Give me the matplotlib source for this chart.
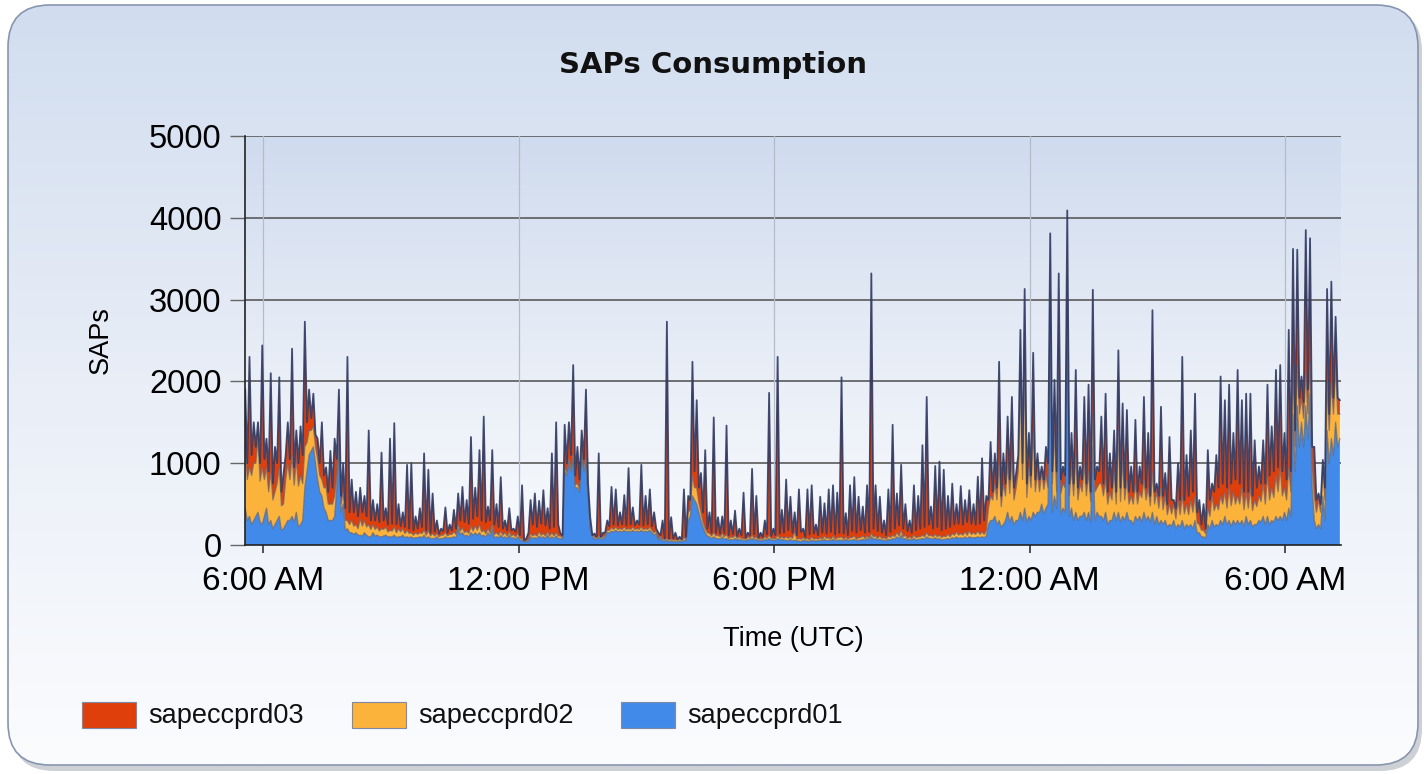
import numpy as np
import matplotlib
matplotlib.use("Agg")
import matplotlib.pyplot as plt
from matplotlib.patches import FancyBboxPatch, Rectangle

# ---------------- data -------------
# Samples every 3 minutes from 05:35: a "peak" reading every 6 minutes, and the
# "trough" reading that lies between two consecutive peak readings.
start_hour = 5.0 + 35.0 / 60.0
step_hour = 0.05

# sapeccprd01 (blue, bottom layer) - peak readings
sapeccprd01 = [
    450, 350, 300, 400, 250, 450, 300, 250, 350, 200, 300, 350, 400, 250, 700, 1100, 1200, 800, 600, 400,
    300, 350, 1250, 500, 200, 150, 150, 120, 150, 100, 150, 120, 100, 120, 100, 120, 100, 120, 100, 100,
    90, 100, 120, 100, 80, 100, 80, 100, 90, 100, 200, 150, 120, 150, 150, 150, 120, 150, 200, 100,
    120, 100, 120, 90, 100, 60, 40, 100, 90, 110, 100, 120, 100, 110, 80, 900, 1000, 1050, 700, 1100,
    1000, 200, 80, 90, 80, 150, 170, 180, 170, 180, 170, 180, 170, 180, 170, 180, 120, 60, 50, 60,
    50, 40, 50, 60, 300, 600, 500, 300, 150, 100, 100, 80, 100, 80, 70, 80, 70, 60, 70, 80,
    70, 60, 70, 80, 60, 80, 70, 60, 70, 60, 50, 60, 50, 60, 50, 60, 70, 60, 70, 60,
    60, 70, 60, 70, 60, 70, 80, 100, 80, 70, 60, 70, 80, 100, 120, 80, 70, 80, 70, 80,
    100, 80, 90, 80, 70, 80, 90, 100, 90, 100, 100, 90, 100, 100, 110, 300, 350, 300, 250, 400,
    350, 300, 400, 450, 350, 400, 400, 500, 450, 2900, 600, 1800, 450, 3000, 450, 400, 350, 400, 400, 1200,
    400, 350, 400, 300, 400, 400, 350, 400, 300, 350, 350, 400, 350, 400, 350, 300, 300, 250, 300, 250,
    300, 250, 250, 300, 150, 100, 250, 300, 250, 300, 350, 300, 300, 300, 300, 350, 300, 250, 300, 350,
    350, 300, 350, 350, 400, 450, 1600, 1700, 1500, 1700, 1850, 300, 250, 600, 1400, 1300, 1500, 1300,
]
# sapeccprd01 - trough readings
sapeccprd01_troughs = [
    300, 250, 350, 280, 350, 250, 200, 300, 180, 250, 300, 280, 220, 300,
    900, 1150, 1000, 650, 450, 300, 300, 700, 400, 180, 150,
    130, 120, 110, 120, 100, 110, 100, 110, 100, 100, 90, 100, 90, 90, 80, 90, 90, 80, 80, 80, 70, 80, 80, 90, 90,
    130, 110, 100, 120, 120, 110, 100, 110, 90, 90, 90, 80, 80, 70, 60, 40, 50, 80, 80, 90, 80, 80, 80, 80, 70,
    850, 900, 700, 650, 900, 600, 100,
    70, 70, 100, 150, 160, 160, 160, 160, 160, 160, 160, 160, 160, 150, 140, 90, 50, 40, 40, 40, 40, 50,
    350, 550, 400, 220, 110, 80, 80,
    70, 70, 60, 60, 60, 60, 50, 60, 60, 50, 50, 60, 60, 60, 60,
    60, 50, 50, 50, 40, 50, 40, 50, 50, 50, 50, 50, 50, 60, 50, 50, 60, 50, 60, 60,
    60, 70, 60, 60, 50, 60, 70, 80, 70, 60, 60, 60, 70, 70, 80, 70, 70, 60, 70, 70, 80, 80, 80, 80, 90, 90, 90, 90,
    250, 300, 250, 220, 300, 280, 250, 300, 300, 280, 300, 350, 400, 380, 500, 400, 450, 380, 400, 350,
    300, 300, 350, 300, 280, 300, 350, 300, 250, 300, 300, 280, 300, 300, 250, 300, 280, 300, 280, 250,
    250, 250, 220, 230, 200, 220, 200, 220, 200, 150, 100, 80, 200, 220, 230, 250, 250, 230, 250, 250,
    230, 250, 220, 250, 280, 250, 250, 280, 300, 300, 300, 350, 900, 1200, 1200, 1300, 700, 200, 200, 300,
    1000, 1100, 1200,
]

# sapeccprd02 (yellow, middle layer) - peak readings
sapeccprd02 = [
    800, 600, 700, 900, 700, 500, 600, 400, 600, 300, 700, 750, 650, 600, 500, 300, 250, 250, 200, 300,
    200, 250, 100, 150, 100, 150, 100, 200, 150, 150, 100, 100, 100, 100, 80, 100, 100, 80, 80, 50,
    60, 50, 60, 80, 60, 40, 40, 50, 40, 60, 50, 60, 50, 80, 80, 100, 60, 50, 50, 50,
    50, 50, 40, 40, 40, 20, 10, 40, 40, 50, 40, 40, 50, 40, 30, 50, 50, 60, 50, 50,
    60, 40, 20, 20, 20, 30, 40, 40, 30, 40, 30, 40, 30, 40, 30, 40, 30, 20, 20, 20,
    20, 20, 20, 30, 100, 250, 200, 100, 50, 40, 50, 40, 40, 50, 30, 40, 30, 20, 30, 40,
    30, 20, 30, 40, 20, 40, 30, 40, 30, 100, 30, 30, 30, 40, 30, 30, 40, 30, 40, 30,
    40, 30, 30, 40, 30, 40, 30, 40, 30, 40, 30, 40, 40, 50, 60, 40, 30, 40, 30, 40,
    50, 40, 40, 40, 40, 50, 50, 60, 50, 60, 70, 60, 70, 60, 70, 300, 400, 700, 500, 600,
    700, 400, 1600, 1700, 600, 1000, 500, 400, 400, 200, 800, 300, 300, 300, 500, 700, 400, 600, 500, 400,
    300, 400, 400, 350, 500, 1000, 700, 400, 300, 400, 300, 400, 350, 500, 300, 400, 300, 250, 200, 300,
    300, 250, 300, 300, 100, 80, 200, 300, 250, 300, 300, 400, 350, 300, 400, 300, 400, 300, 300, 400,
    500, 400, 500, 600, 300, 500, 600, 500, 300, 400, 400, 300, 300, 400, 600, 700, 700, 300,
]
# sapeccprd02 - trough readings
sapeccprd02_troughs = [
    500, 600, 650, 500, 450, 400, 350, 450, 300, 550, 500, 450, 500, 450,
    350, 250, 200, 200, 250, 200, 200, 150, 100, 120, 100,
    100, 80, 120, 100, 90, 80, 70, 80, 60, 70, 60, 60, 50, 50, 40, 40, 50, 40, 30, 30, 30, 40, 30, 40, 40,
    40, 40, 40, 50, 60, 50, 40, 40, 40, 30, 30, 30, 30, 30, 20, 10, 20, 30, 30, 30, 30, 30, 30, 30, 20,
    40, 40, 40, 40, 50, 30, 20,
    20, 20, 20, 30, 30, 30, 30, 30, 30, 30, 30, 30, 30, 30, 30, 20, 20, 20, 20, 20, 20, 20,
    80, 150, 120, 60, 40, 30, 30,
    30, 30, 20, 30, 20, 20, 20, 20, 20, 20, 20, 20, 20, 20, 20,
    20, 30, 30, 20, 30, 20, 20, 20, 20, 20, 30, 20, 20, 30, 20, 20, 30, 20, 30, 20,
    20, 30, 20, 20, 20, 30, 30, 30, 30, 20, 20, 30, 30, 30, 30, 30, 30, 30, 30, 30, 40, 40, 40, 40, 40, 40, 40, 40,
    200, 250, 300, 250, 300, 350, 300, 600, 500, 300, 400, 300, 250, 300, 200, 350, 200, 250, 300, 250,
    300, 250, 300, 300, 250, 350, 400, 300, 250, 250, 200, 250, 250, 200, 250, 200, 300, 250, 200, 250,
    200, 180, 150, 150, 120, 150, 180, 150, 200, 120, 80, 60, 150, 200, 200, 250, 200, 250, 250, 250,
    200, 200, 200, 220, 250, 250, 300, 300, 350, 300, 250, 300, 300, 400, 350, 300, 300, 200, 200, 250,
    400, 500, 400,
]

# top of the stack (sum of the three servers) - peak readings
stack_top = [
    1900, 2300, 1500, 1500, 2440, 1300, 2100, 1200, 2050, 870, 1500, 2400, 1400, 1450, 2730, 1900, 1850, 1300, 1500, 950,
    1150, 1300, 1900, 1000, 2300, 800, 650, 700, 600, 1400, 550, 500, 1130, 450, 1300, 1490, 500, 400, 980, 1000,
    350, 450, 1120, 920, 630, 300, 200, 460, 250, 430, 630, 710, 550, 1320, 700, 1160, 1570, 470, 1160, 500,
    830, 300, 450, 200, 350, 730, 80, 550, 630, 540, 670, 450, 1120, 1500, 140, 1470, 1500, 2200, 1200, 1400,
    1900, 340, 140, 1120, 150, 300, 710, 680, 400, 610, 940, 460, 300, 980, 600, 680, 400, 150, 300, 2730,
    340, 150, 100, 680, 600, 2240, 1770, 880, 1160, 400, 1560, 340, 350, 1460, 300, 420, 200, 640, 150, 930,
    600, 150, 300, 1860, 200, 2300, 430, 800, 590, 400, 680, 200, 680, 730, 250, 590, 510, 680, 730, 640,
    2050, 390, 730, 830, 590, 470, 730, 3320, 730, 590, 300, 680, 1470, 630, 980, 500, 300, 730, 600, 1220,
    1810, 470, 966, 1020, 920, 600, 750, 500, 720, 550, 670, 500, 835, 1060, 600, 1260, 1120, 2240, 1120, 1570,
    1810, 880, 2630, 3130, 1370, 2350, 1120, 960, 1200, 3810, 2020, 3320, 960, 4090, 1370, 2140, 960, 1810, 1960, 3120,
    960, 1570, 1850, 1120, 1400, 2380, 1730, 1650, 960, 1530, 960, 1810, 1370, 2870, 750, 1690, 880, 1320, 550, 1000,
    2300, 1100, 1400, 1850, 550, 500, 1160, 750, 1100, 2060, 1770, 1960, 1370, 2140, 1770, 1850, 1850, 1280, 960, 1280,
    1960, 1450, 2140, 2200, 1370, 2630, 3620, 3610, 2060, 3850, 3750, 1200, 630, 1040, 3130, 3220, 2790, 1770,
]
# top of the stack - trough readings
stack_top_troughs = [
    1000, 1100, 1200, 1000, 1050, 900, 750, 1000, 650, 1100, 1050, 950, 1000, 1100,
    1500, 1550, 1350, 1000, 850, 650, 700, 1050, 600, 450, 400,
    400, 350, 400, 350, 300, 300, 280, 300, 250, 260, 250, 230, 220, 200, 180, 200, 220, 180, 150, 160, 140, 170, 150, 180, 200,
    300, 280, 260, 320, 350, 300, 280, 300, 250, 220, 200, 180, 180, 160, 120, 60, 150, 250, 220, 260, 240, 200, 220, 250, 120,
    1000, 1100, 850, 800, 1050, 750, 120,
    100, 100, 150, 230, 250, 240, 250, 240, 250, 240, 250, 240, 250, 230, 200, 120, 80, 80, 80, 70, 70, 100,
    550, 900, 700, 400, 200, 150, 150,
    140, 150, 120, 130, 110, 120, 90, 120, 130, 90, 100, 130, 110, 120, 140,
    150, 180, 150, 120, 160, 100, 130, 140, 120, 150, 140, 160, 130, 150, 140, 120, 170, 150, 180, 150,
    160, 200, 170, 150, 120, 160, 200, 240, 200, 170, 150, 180, 200, 220, 250, 200, 220, 180, 200, 220, 250, 260, 250, 280, 260, 250, 260, 300,
    550, 650, 700, 600, 750, 800, 700, 1100, 1000, 750, 850, 800, 800, 800, 1000, 900, 900, 800, 850, 750,
    750, 700, 800, 750, 650, 800, 900, 750, 650, 700, 650, 700, 700, 650, 650, 650, 750, 700, 600, 650,
    600, 600, 500, 550, 450, 550, 550, 600, 650, 400, 250, 200, 550, 650, 700, 750, 700, 750, 800, 750,
    650, 650, 600, 700, 750, 750, 850, 900, 950, 900, 800, 900, 1400, 1800, 1750, 1900, 1200, 550, 500, 700,
    1600, 1800, 1800,
]

series_labels = ["sapeccprd03", "sapeccprd02", "sapeccprd01"]
x_tick_hours = [6, 12, 18, 24, 30]
x_tick_labels = ["6:00 AM", "12:00 PM", "6:00 PM", "12:00 AM", "6:00 AM"]
y_ticks = [0, 1000, 2000, 3000, 4000, 5000]


def merge(peaks, troughs):
    """Put peak and trough readings in time order."""
    out = []
    for k, p in enumerate(peaks):
        out.append(p)
        if k < len(troughs) and k < len(peaks) - 1:
            out.append(troughs[k])
    return np.array(out, dtype=float)


b = merge(sapeccprd01, sapeccprd01_troughs)
yv = merge(sapeccprd02, sapeccprd02_troughs)
top = merge(stack_top, stack_top_troughs)
n = min(len(b), len(yv), len(top))
b, yv, top = b[:n], yv[:n], top[:n]
sapeccprd03 = np.maximum(top - b - yv, 0)
t = start_hour + step_hour * np.arange(n)

C_RED = "#DF400B"
C_YEL = "#FBB33B"
C_BLUE = "#418AEA"
C_EDGE = "#2E3B66"

W, H = 1426, 774
fig = plt.figure(figsize=(W / 100, H / 100), dpi=100)
fig.patch.set_facecolor("white")

# ---------------- background panel ----------------
bg = fig.add_axes([0, 0, 1, 1])
bg.set_xlim(0, W)
bg.set_ylim(H, 0)
bg.axis("off")
shadow = FancyBboxPatch((12, 9), 1410, 762, boxstyle="round,pad=0,rounding_size=42",
                        facecolor="#b9bcc2", edgecolor="none", alpha=0.7, zorder=0)
bg.add_patch(shadow)
panel = FancyBboxPatch((8, 5), 1410, 760, boxstyle="round,pad=0,rounding_size=42",
                       facecolor="none", edgecolor="#8796b0", linewidth=1.2, zorder=2)
bg.add_patch(panel)
grad = np.linspace(0, 1, 256)[:, None]
cmap_bg = matplotlib.colors.LinearSegmentedColormap.from_list("bgp", ["#d1ddef", "#e9eef7", "#fbfcfe"])
im = bg.imshow(grad, extent=(8, 1418, 765, 5), cmap=cmap_bg, aspect="auto", zorder=1)
im.set_clip_path(panel)

bg.text(713, 65, "SAPs Consumption", ha="center", va="center", fontsize=21,
        fontweight="bold", family="DejaVu Sans", color="#111111", zorder=3)

legend_colors = [C_RED, C_YEL, C_BLUE]
legend_x = [82, 352, 621]
for lx, col, lab in zip(legend_x, legend_colors, series_labels):
    bg.add_patch(Rectangle((lx, 702), 54, 26, facecolor=col, edgecolor="#7d8aa6", linewidth=0.8, zorder=3))
    bg.text(lx + 66, 716, lab, ha="left", va="center", fontsize=19.5,
            family="Liberation Sans", color="#111111", zorder=3)

# ---------------- main axes ----------------
L, R, T, B = 245, 1341, 136, 545
ax = fig.add_axes([L / W, 1 - B / H, (R - L) / W, (B - T) / H])
ax.patch.set_alpha(0)
cmap_ax = matplotlib.colors.LinearSegmentedColormap.from_list("axg", ["#cfdbee", "#e6ecf6", "#f8fafd"])
ax.imshow(grad, extent=(0, 1, 0, 1), transform=ax.transAxes, cmap=cmap_ax, aspect="auto", zorder=0)

ax.stackplot(t, b, yv, sapeccprd03, colors=[C_BLUE, C_YEL, C_RED], linewidth=0, zorder=2)
ax.plot(t, b, color="#5f6478", lw=0.9, alpha=0.75, zorder=3)
ax.plot(t, b + yv, color="#6c6470", lw=0.9, alpha=0.75, zorder=3)
ax.plot(t, b + yv + sapeccprd03, color=C_EDGE, lw=1.3, alpha=0.9, zorder=4)

ax.set_xlim(start_hour - 0.005, 31.31)
ax.set_ylim(0, 5000)
ax.set_yticks(y_ticks)
ax.set_yticklabels([str(v) for v in y_ticks], family="Liberation Sans", fontsize=23.5)
ax.set_xticks(x_tick_hours)
ax.set_xticklabels(x_tick_labels, family="Liberation Sans", fontsize=24)

for yv_ in y_ticks[1:]:
    ax.axhline(yv_, color="#5a5a5a", lw=1.2, zorder=1)
for xv_ in x_tick_hours:
    ax.axvline(xv_, color="#b4bcc8", lw=0.9, zorder=1)

for s in ["top", "right"]:
    ax.spines[s].set_visible(False)
for s in ["left", "bottom"]:
    ax.spines[s].set_color("#222222")
    ax.spines[s].set_linewidth(1.2)
    ax.spines[s].set_zorder(5)

ax.tick_params(axis="y", direction="out", length=11, width=1.0, color="#666666", pad=6)
ax.tick_params(axis="x", direction="out", length=6, width=1.2, color="#333333", pad=9)

ax.set_ylabel("SAPs", family="Liberation Sans", fontsize=19.5)
ax.yaxis.set_label_coords(-0.120, 0.5)
ax.set_xlabel("Time (UTC)", family="Liberation Sans", fontsize=19.5)
ax.xaxis.set_label_coords(0.5, -0.198)

fig.savefig("out.png", dpi=100)
